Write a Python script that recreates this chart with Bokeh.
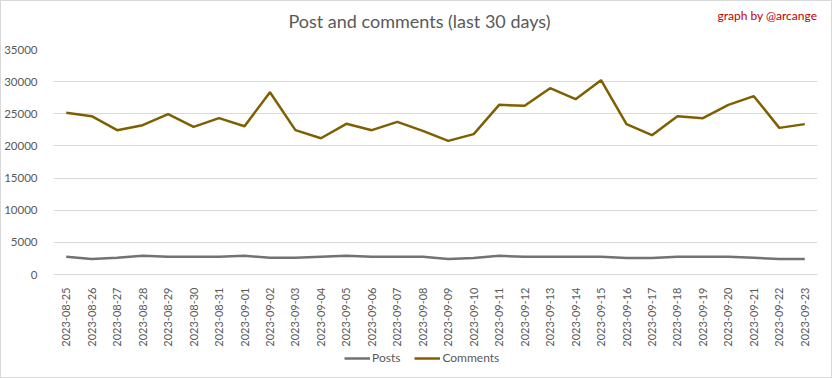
from bokeh.plotting import figure
from bokeh.layouts import column
from bokeh.models import ColumnDataSource, FactorRange, Range1d, Label, Legend, LegendItem, FixedTicker
from bokeh.embed import file_html
from bokeh.resources import INLINE
import math

dates = ["2023-08-25", "2023-08-26", "2023-08-27", "2023-08-28", "2023-08-29", "2023-08-30",
         "2023-08-31", "2023-09-01", "2023-09-02", "2023-09-03", "2023-09-04", "2023-09-05",
         "2023-09-06", "2023-09-07", "2023-09-08", "2023-09-09", "2023-09-10", "2023-09-11",
         "2023-09-12", "2023-09-13", "2023-09-14", "2023-09-15", "2023-09-16", "2023-09-17",
         "2023-09-18", "2023-09-19", "2023-09-20", "2023-09-21", "2023-09-22", "2023-09-23"]

posts = [2750, 2400, 2600, 2900, 2750, 2750, 2750, 2900, 2600, 2600, 2750, 2900,
         2750, 2750, 2750, 2400, 2550, 2900, 2750, 2750, 2750, 2750, 2550, 2550,
         2750, 2750, 2750, 2600, 2400, 2400]

comments = [25150, 24630, 22450, 23230, 24940, 22970, 24320, 23070, 28360, 22450,
            21200, 23440, 22450, 23750, 22350, 20790, 21830, 26390, 26240, 28980,
            27270, 30230, 23390, 21670, 24630, 24320, 26390, 27740, 22810, 23390]

y_ticks = [0, 5000, 10000, 15000, 20000, 25000, 30000, 35000]

series_names = ["Posts", "Comments"]
series_colors = ["#767171", "#7f6000"]

title_text = "Post and comments (last 30 days)"
credit_text = "graph by @arcange"

FONT = "Lato"
GREY = "#595959"
W = 830


def strip(height):
    f = figure(width=W, height=height, x_range=Range1d(0, 1), y_range=Range1d(0, 1),
               x_axis_type=None, y_axis_type=None,
               output_backend="svg", toolbar_location=None,
               min_border_left=0, min_border_right=0, min_border_top=0, min_border_bottom=0)
    f.grid.grid_line_color = None
    f.outline_line_color = None
    f.border_fill_color = "white"
    f.background_fill_color = "white"
    return f


# header strip with title and credit (frame is aligned with the chart's frame)
head = strip(40)
head.add_layout(Label(x=366, y=21, x_units="screen", y_units="screen", text=title_text,
                      text_font=FONT, text_font_size="18px", text_color=GREY,
                      text_align="center", text_baseline="middle"))
head.add_layout(Label(x=664, y=26, x_units="screen", y_units="screen", text=credit_text,
                      text_font=FONT, text_font_size="12px", text_color="#c00000",
                      text_align="left", text_baseline="middle"))

# main chart
source = ColumnDataSource(dict(date=dates, posts=posts, comments=comments))

p = figure(width=W, height=309, x_range=FactorRange(*dates), y_range=Range1d(0, 35000),
           output_backend="svg", toolbar_location=None,
           min_border_left=49, min_border_right=14, min_border_top=8, min_border_bottom=76)
p.outline_line_color = None
p.background_fill_color = "white"
p.border_fill_color = "white"

p.xgrid.grid_line_color = None
p.ygrid.grid_line_color = "#d9d9d9"
p.ygrid.grid_line_width = 1

p.yaxis.ticker = FixedTicker(ticks=y_ticks)
p.yaxis.axis_line_color = None
p.yaxis.major_tick_line_color = None
p.yaxis.minor_tick_line_color = None
p.yaxis.major_label_text_font = FONT
p.yaxis.major_label_text_font_size = "11.5px"
p.yaxis.major_label_text_color = GREY
p.yaxis.major_label_standoff = 10

p.xaxis.axis_line_color = "#d9d9d9"
p.xaxis.major_tick_line_color = None
p.xaxis.minor_tick_line_color = None
p.xaxis.major_label_orientation = math.pi / 2
p.xaxis.major_label_text_font = FONT
p.xaxis.major_label_text_font_size = "11px"
p.xaxis.major_label_text_color = GREY
p.xaxis.major_label_standoff = 7

p.line("date", "posts", source=source, line_color=series_colors[0], line_width=2.5)
p.line("date", "comments", source=source, line_color=series_colors[1], line_width=2.5)

# legend strip below the chart
lf = strip(27)
items = []
for name, col in zip(series_names, series_colors):
    r = lf.line(x=[-2, -1], y=[-2, -2], line_color=col, line_width=2.5)
    items.append(LegendItem(label=name, renderers=[r]))
legend = Legend(items=items, orientation="horizontal", location=(291, 12),
                label_text_font=FONT, label_text_font_size="12px", label_text_color=GREY,
                glyph_width=26, glyph_height=14, label_standoff=2, spacing=14,
                padding=0, margin=0, background_fill_alpha=0, border_line_color=None)
lf.add_layout(legend, "center")

layout = column(head, p, lf, spacing=0, styles={"border": "1px solid #d9d9d9"})

open("out.html", "w").write(file_html(layout, INLINE))
